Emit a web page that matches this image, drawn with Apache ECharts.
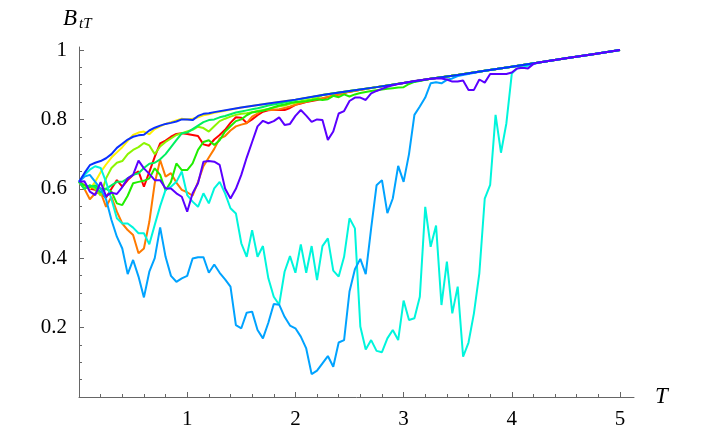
<!DOCTYPE html>
<html>
<head>
<meta charset="utf-8">
<script src="https://cdn.jsdelivr.net/npm/echarts@6/dist/echarts.min.js"></script>
<style>
  html, body { margin: 0; padding: 0; background: #fff; }
  #chart { width: 708px; height: 438px; }
</style>
</head>
<body>
<div id="chart"></div>
<script>
// time step of the simulated paths
const STEP = 0.05;

// common curve that every path joins before T = 5
const envT = [1.25, 1.5, 1.75, 2, 2.25, 2.5, 2.75, 3, 3.25, 3.5, 3.75, 4, 4.25, 4.5, 4.75, 5];
const envB = [0.821, 0.834, 0.846, 0.857, 0.870, 0.882, 0.893, 0.905, 0.917, 0.928, 0.940, 0.952, 0.964, 0.976, 0.988, 1.0];

// paths, one value per STEP from T = 0
const red = [0.62,0.61,0.60,0.597,0.585,0.575,0.60,0.625,0.606,0.625,
  0.64,0.65,0.606,0.649,0.692,0.731,0.739,0.75,0.758,0.76,
  0.758,0.755,0.752,0.728,0.724,0.742,0.755,0.77,0.79,0.806,
  0.805,0.79,0.80,0.812,0.822,0.826,0.828,0.827,0.827,0.833,
  0.842,0.846,0.85,0.853,0.856,0.86,0.864,0.868,0.872,0.876,0.88];
const orange = [0.62,0.60,0.57,0.587,0.59,0.548,0.577,0.534,0.50,0.481,
  0.467,0.414,0.428,0.505,0.616,0.683,0.635,0.645,0.618,0.597,
  0.59,0.58,0.62,0.665,0.69,0.715,0.745,0.752,0.768,0.78,
  0.785,0.789,0.808,0.817,0.827,0.827,0.827,0.829,0.833,0.837,
  0.842,0.847,0.851,0.855,0.858,0.861,0.865,0.869,0.872,0.876,0.88];
const yellow = [0.62,0.605,0.60,0.62,0.648,0.67,0.69,0.705,0.72,0.738,
  0.755,0.762,0.765,0.757,0.772,0.78,0.787,0.792,0.797,0.802,
  0.80,0.802,0.806,0.812,0.815,0.819,0.822];
const chartreuse = [0.62,0.60,0.61,0.60,0.58,0.63,0.66,0.675,0.68,0.70,
  0.712,0.72,0.732,0.725,0.70,0.722,0.735,0.745,0.755,0.76,
  0.765,0.77,0.779,0.775,0.765,0.78,0.795,0.802,0.808,0.813,
  0.816,0.818,0.821,0.824,0.827,0.83,0.834,0.838,0.84,0.845,
  0.848,0.852,0.855,0.858,0.862];
const green = [0.62,0.61,0.605,0.61,0.60,0.60,0.592,0.558,0.553,0.58,
  0.616,0.62,0.623,0.63,0.659,0.64,0.595,0.62,0.673,0.654,
  0.654,0.673,0.712,0.735,0.74,0.726,0.74,0.765,0.78,0.795,
  0.80,0.812,0.82,0.823,0.825,0.83,0.835,0.84,0.843,0.847,
  0.85,0.851,0.852,0.855,0.858,0.856,0.858,0.868,0.864,0.872,
  0.866,0.872,0.876,0.879,0.882,0.884,0.886,0.888,0.89,0.892,
  0.893,0.902,0.908];
const spring = [0.62,0.60,0.61,0.605,0.59,0.60,0.61,0.62,0.62,0.63,
  0.64,0.645,0.66,0.672,0.675,0.685,0.70,0.72,0.74,0.76,
  0.762,0.772,0.782,0.792,0.798,0.80,0.806,0.81,0.815,0.82,
  0.823,0.826,0.829,0.832,0.836,0.84,0.843,0.846,0.849,0.852,0.856];
const cyan = [0.62,0.64,0.655,0.665,0.66,0.62,0.57,0.515,0.50,0.50,
  0.488,0.472,0.472,0.44,0.496,0.55,0.597,0.606,0.62,0.65,
  0.582,0.563,0.548,0.587,0.558,0.601,0.62,0.587,0.544,0.529,
  0.443,0.404,0.481,0.404,0.435,0.342,0.289,0.266,0.361,0.406,
  0.358,0.44,0.358,0.435,0.337,0.435,0.457,0.364,0.347,0.404,
  0.515,0.486,0.203,0.137,0.164,0.133,0.129,0.169,0.193,0.164,
  0.278,0.222,0.227,0.289,0.548,0.433,0.494,0.265,0.39,0.241,
  0.318,0.116,0.157,0.241,0.356,0.572,0.611,0.813,0.704,0.789,
  0.932,0.947,0.95];
const azure = [0.62,0.635,0.64,0.62,0.60,0.57,0.51,0.462,0.428,0.354,
  0.395,0.347,0.287,0.361,0.40,0.489,0.404,0.349,0.332,0.342,
  0.349,0.399,0.403,0.403,0.358,0.382,0.358,0.339,0.318,0.207,
  0.198,0.243,0.246,0.193,0.169,0.214,0.268,0.266,0.231,0.206,
  0.198,0.174,0.14,0.066,0.076,0.097,0.118,0.087,0.157,0.164,
  0.304,0.368,0.398,0.354,0.486,0.61,0.625,0.53,0.572,0.666,
  0.62,0.70,0.813,0.837,0.863,0.904,0.907,0.904,0.914,0.918,0.925];
const blue = [0.62,0.645,0.668,0.675,0.68,0.688,0.70,0.718,0.73,0.742,
  0.75,0.754,0.756,0.768,0.776,0.782,0.787,0.79,0.794,0.80,
  0.80,0.798,0.81,0.816,0.818];
const violet = [0.62,0.622,0.592,0.582,0.619,0.579,0.589,0.585,0.605,0.63,
  0.64,0.681,0.659,0.643,0.625,0.625,0.601,0.601,0.587,0.577,
  0.534,0.587,0.616,0.678,0.68,0.678,0.669,0.601,0.572,0.60,
  0.64,0.69,0.735,0.78,0.796,0.789,0.795,0.806,0.784,0.787,
  0.81,0.827,0.811,0.793,0.80,0.798,0.741,0.765,0.817,0.824,
  0.853,0.863,0.863,0.856,0.875,0.882,0.888,0.894,0.898,0.902,
  0.905,0.908,0.911,0.913,0.915,0.917,0.918,0.918,0.915,0.909,
  0.909,0.912,0.885,0.885,0.915,0.906,0.931,0.931,0.931,0.931,
  0.935,0.947,0.949,0.947,0.96];

const paths = [
  { name: "red", values: red, color: "#ff0000" },
  { name: "orange", values: orange, color: "#ff7a00" },
  { name: "yellow", values: yellow, color: "#fff000" },
  { name: "chartreuse", values: chartreuse, color: "#8cf500" },
  { name: "green", values: green, color: "#20ee00" },
  { name: "spring", values: spring, color: "#00f060" },
  { name: "cyan", values: cyan, color: "#00f5dc" },
  { name: "azure", values: azure, color: "#00a3ff" },
  { name: "blue", values: blue, color: "#0a30ff" },
  { name: "violet", values: violet, color: "#5a00ff" },
];

function buildData(values) {
  const pts = values.map((v, i) => [+(i * STEP).toFixed(2), v]);
  const last = pts[pts.length - 1][0];
  envT.forEach((t, k) => { if (t > last + 1e-9) pts.push([t, envB[k]]); });
  return pts;
}

const serif = "Liberation Serif";
const axisColor = "#666";

let chart = echarts.init(document.getElementById("chart"), null, { renderer: "canvas" });

let option = {
  animation: false,
  backgroundColor: "#fff",
  grid: [
    // axis lines only (run a little past the last tick)
    { left: 79, right: 74, top: 47, bottom: 41, outerBoundsMode: "none" },
    // ticks, labels and data
    { left: 79, right: 88, top: 50, bottom: 41, outerBoundsMode: "none" },
  ],
  xAxis: [
    {
      gridIndex: 0, type: "value", min: 0, max: 5.13,
      axisLine: { lineStyle: { color: axisColor, width: 1 } },
      axisTick: { show: false }, axisLabel: { show: false }, splitLine: { show: false },
      name: "T", nameLocation: "end", nameGap: 21,
      nameTextStyle: { fontFamily: serif, fontStyle: "italic", fontSize: 23, color: "#000", verticalAlign: "middle" },
    },
    {
      gridIndex: 1, type: "value", min: 0, max: 5, interval: 1,
      axisLine: { show: false },
      axisTick: { show: true, inside: true, length: 5, lineStyle: { color: axisColor } },
      minorTick: { show: true, splitNumber: 5, length: 3, lineStyle: { color: axisColor } },
      axisLabel: {
        margin: 12, fontFamily: serif, fontSize: 21, color: "#000",
        formatter: (v) => (v === 0 ? "" : String(v)),
      },
      splitLine: { show: false },
    },
  ],
  yAxis: [
    {
      gridIndex: 0, type: "value", min: 0, max: 1.0086,
      axisLine: { show: true, lineStyle: { color: axisColor, width: 1 } },
      axisTick: { show: false }, axisLabel: { show: false }, splitLine: { show: false },
    },
    {
      gridIndex: 1, type: "value", min: 0, max: 1, interval: 0.2,
      axisLine: { show: false },
      axisTick: { show: true, inside: true, length: 5, lineStyle: { color: axisColor } },
      minorTick: { show: true, splitNumber: 4, length: 3, lineStyle: { color: axisColor } },
      axisLabel: {
        margin: 12, fontFamily: serif, fontSize: 21, color: "#000",
        formatter: (v) => (v === 0 ? "" : String(+v.toFixed(1))),
      },
      splitLine: { show: false },
    },
  ],
  graphic: [
    { type: "text", left: 63, top: 7,
      style: { text: "B", fontFamily: serif, fontStyle: "italic", fontSize: 23, fill: "#000" } },
    { type: "text", left: 79, top: 17,
      style: { text: "tT", fontFamily: serif, fontStyle: "italic", fontSize: 15, fill: "#000" } },
  ],
  series: paths.map((p) => ({
    name: p.name,
    type: "line",
    xAxisIndex: 1,
    yAxisIndex: 1,
    data: buildData(p.values),
    showSymbol: false,
    symbol: "none",
    lineStyle: { color: p.color, width: 2 },
    emphasis: { disabled: true },
  })),
};

chart.setOption(option);
window.onresize = () => chart.resize();
</script>
</body>
</html>
